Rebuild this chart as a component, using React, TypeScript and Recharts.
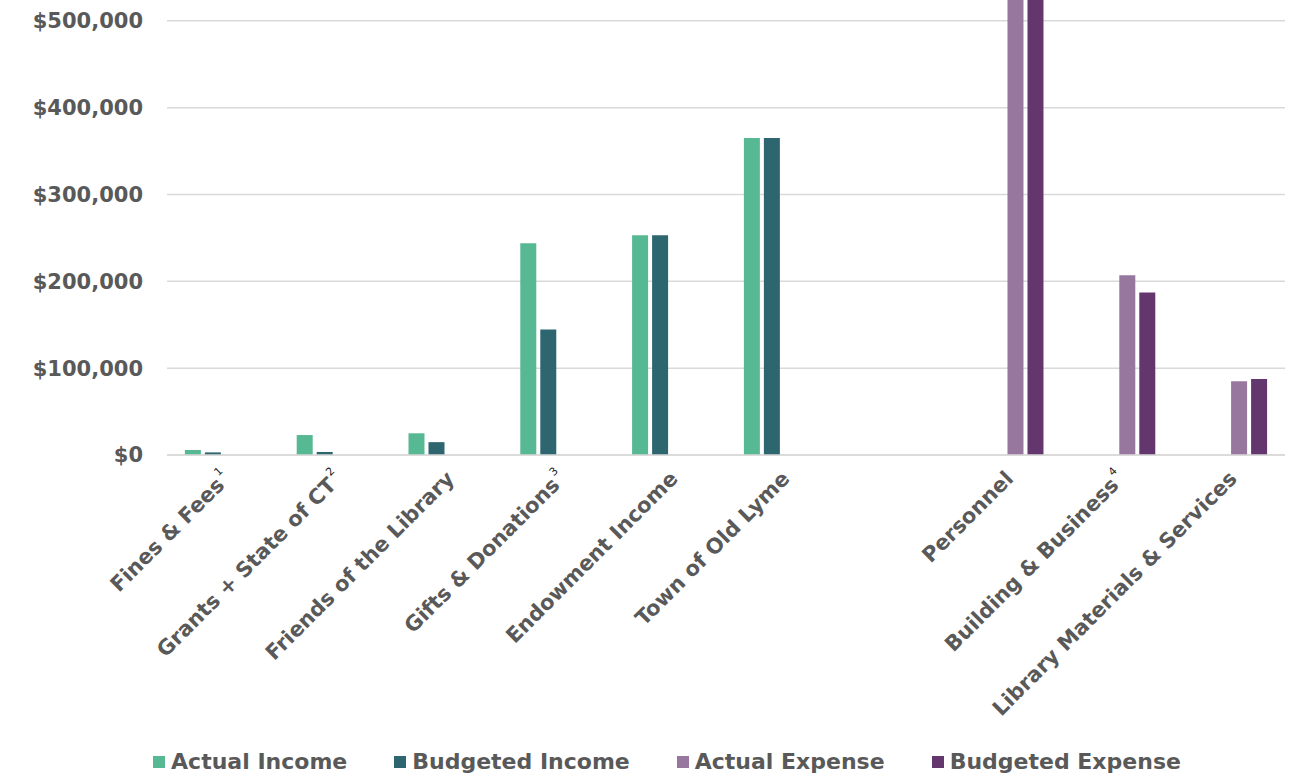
import React from "react";
import {
  BarChart,
  Bar,
  XAxis,
  YAxis,
  CartesianGrid,
  Legend,
} from "recharts";

// categories (the empty one is the spacer between income and expense)
const categories = [
  "Fines & Fees",
  "Grants + State of CT",
  "Friends of the Library",
  "Gifts & Donations",
  "Endowment Income",
  "Town of Old Lyme",
  "",
  "Personnel",
  "Building & Business",
  "Library Materials & Services",
];
const footnotes = ["1", "2", "", "3", "", "", "", "", "4", ""];

const actualIncome = [5800, 23000, 25000, 244000, 253000, 365000, null, null, null, null];
const budgetedIncome = [3000, 3500, 14800, 144500, 253000, 365000, null, null, null, null];
const actualExpense = [null, null, null, null, null, null, null, 590000, 207000, 85000];
const budgetedExpense = [null, null, null, null, null, null, null, 600000, 187000, 87500];

const yTicks = [0, 100000, 200000, 300000, 400000, 500000];

const series = [
  { key: "actualIncome", name: "Actual Income", color: "#57b894" },
  { key: "budgetedIncome", name: "Budgeted Income", color: "#2e6670" },
  { key: "actualExpense", name: "Actual Expense", color: "#98779f" },
  { key: "budgetedExpense", name: "Budgeted Expense", color: "#63376d" },
];

const data = categories.map((name, i) => ({
  name,
  actualIncome: actualIncome[i],
  budgetedIncome: budgetedIncome[i],
  actualExpense: actualExpense[i],
  budgetedExpense: budgetedExpense[i],
}));

const FONT = "'DejaVu Sans', sans-serif";
const GREY = "#595959";

const CategoryTick = ({ x, y, payload }: any) => {
  const i = categories.indexOf(payload.value);
  if (!payload.value) return null;
  const note = footnotes[i];
  return (
    <g transform={`translate(${x + 9},${y + 25})`}>
      <text
        textAnchor="end"
        transform="rotate(-45)"
        fontFamily={FONT}
        fontWeight="bold"
        fontSize={21}
        fill={GREY}
      >
        {payload.value}
        {note && (
          <tspan fontSize={11} fontWeight="normal" fill="#222" dx={2} dy={-12}>
            {note}
          </tspan>
        )}
      </text>
    </g>
  );
};

// legend drawn in the series order, not sorted
const LegendContent = () => (
  <div
    style={{
      display: "flex",
      justifyContent: "center",
      gap: 47,
      fontFamily: FONT,
      fontWeight: "bold",
      fontSize: 22,
      color: GREY,
      lineHeight: "30px",
    }}
  >
    {series.map((s) => (
      <div key={s.key} style={{ display: "flex", alignItems: "center" }}>
        <span
          style={{
            display: "inline-block",
            width: 12,
            height: 12,
            background: s.color,
            marginRight: 6,
          }}
        />
        {s.name}
      </div>
    ))}
  </div>
);

export default function App() {
  return (
    <div style={{ position: "absolute", top: -80, left: 0, background: "#fff" }}>
      <BarChart
        width={1299}
        height={856}
        data={data}
        margin={{ top: 14, right: 14, bottom: 21, left: 0 }}
        barCategoryGap="16%"
        barGap={4}
      >
        <CartesianGrid vertical={false} stroke="#d9d9d9" strokeWidth={1.5} />
        <XAxis
          dataKey="name"
          height={300}
          interval={0}
          tickLine={false}
          tickSize={0}
          tickMargin={0}
          axisLine={{ stroke: "#d9d9d9", strokeWidth: 1.5 }}
          tick={<CategoryTick />}
        />
        <YAxis
          width={167}
          domain={[0, 600000]}
          ticks={yTicks}
          axisLine={false}
          tickLine={false}
          tickSize={0}
          tickMargin={24}
          tickFormatter={(v: number) => `$${v.toLocaleString("en-US")}`}
          tick={{ fontFamily: FONT, fontWeight: "bold", fontSize: 21, fill: GREY }}
        />
        <Legend
          layout="horizontal"
          verticalAlign="middle"
          align="center"
          wrapperStyle={{ top: 827, left: 34, width: 1266 }}
          content={<LegendContent />}
        />
        {series.map((s) => (
          <Bar
            key={s.key}
            dataKey={s.key}
            name={s.name}
            fill={s.color}
            isAnimationActive={false}
          />
        ))}
      </BarChart>
    </div>
  );
}
